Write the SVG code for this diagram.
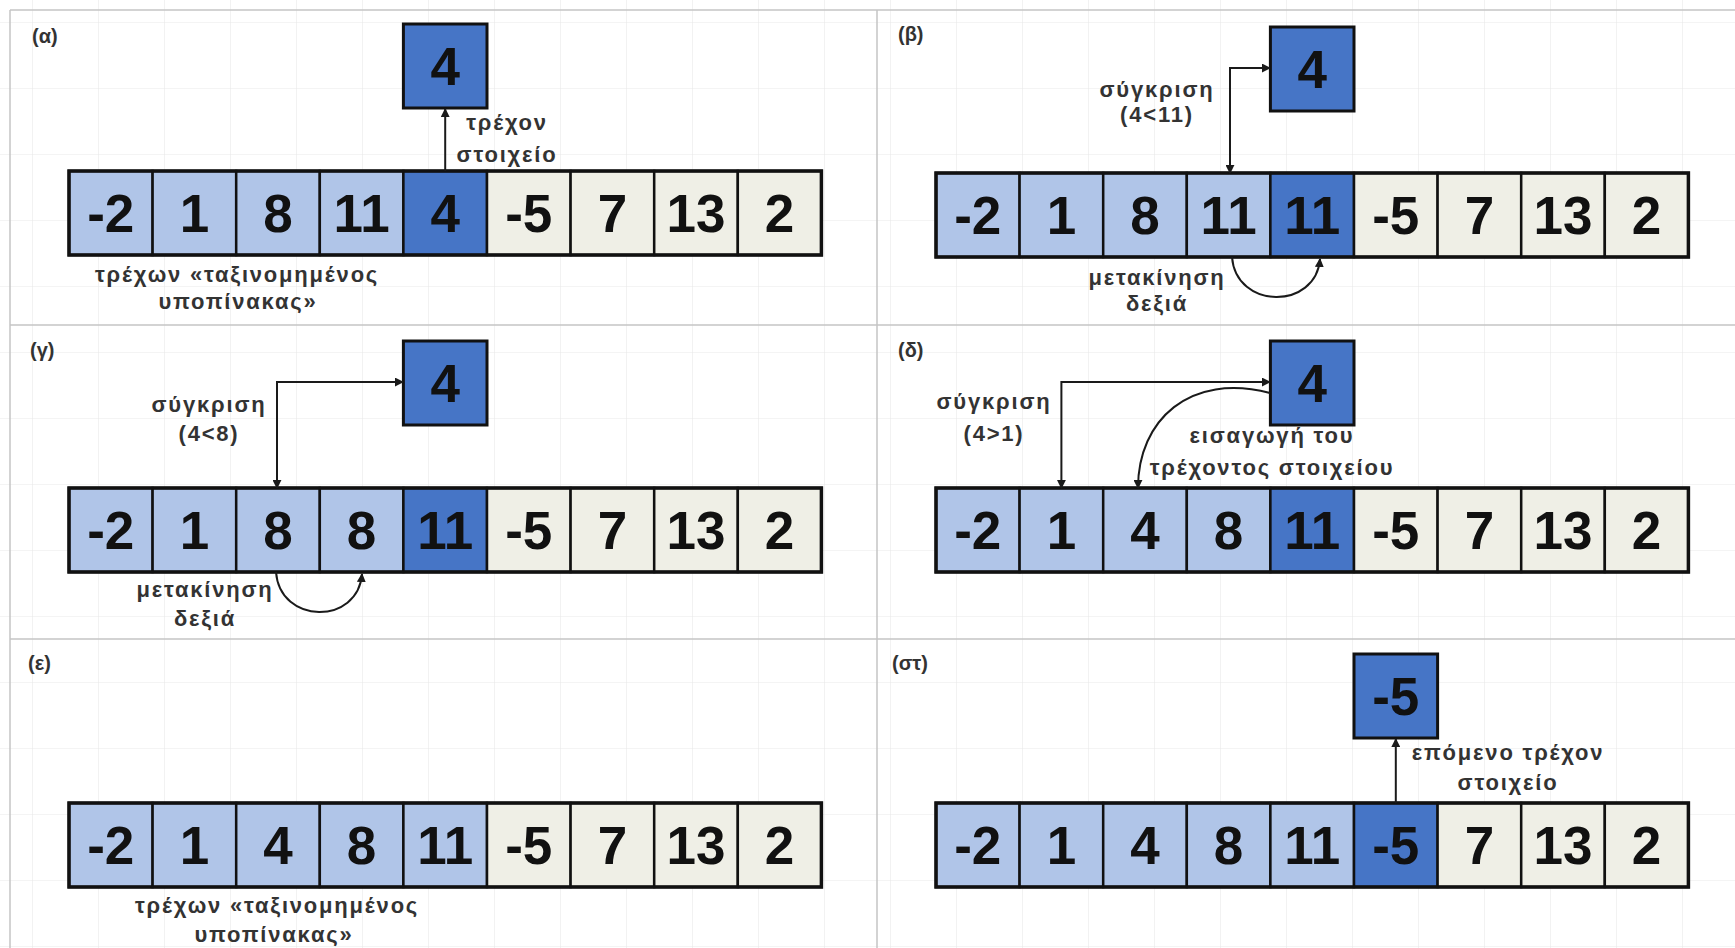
<svg xmlns="http://www.w3.org/2000/svg" width="1735" height="948" viewBox="0 0 1735 948">
<style>
.L{fill:#b0c5e8;stroke:#111;stroke-width:2.5}
.D{fill:#4675c6;stroke:#111;stroke-width:2.5}
.B{fill:#efefe6;stroke:#111;stroke-width:2.5}
.outer{fill:none;stroke:#111;stroke-width:3.5}
.box{fill:#4675c6;stroke:#111;stroke-width:3}
.num{font-family:"Liberation Sans",Arial,sans-serif;font-weight:bold;font-size:53px;fill:#111;text-anchor:middle}
.lbl{font-family:"Liberation Sans",Arial,sans-serif;font-weight:bold;font-size:22px;letter-spacing:1.8px;fill:#333;text-anchor:middle}
.pl{font-family:"Liberation Sans",Arial,sans-serif;font-weight:bold;font-size:20px;fill:#333}
.con{fill:none;stroke:#1a1a1a;stroke-width:2}
.div{stroke:#c4c4c4;stroke-width:1.5}
</style>
<defs>
<pattern id="grid" x="32" y="22" width="66" height="66" patternUnits="userSpaceOnUse">
<path d="M0 0H66M0 0V66" fill="none" stroke="#e9e9e9" stroke-width="1.2"/>
</pattern>
<marker id="ah" viewBox="0 0 10 10" refX="9" refY="5" markerWidth="9" markerHeight="9" markerUnits="userSpaceOnUse" orient="auto-start-reverse">
<path d="M0 0L10 5L0 10z" fill="#1a1a1a"/>
</marker>
</defs>
<rect width="1735" height="948" fill="#ffffff"/>
<rect width="1735" height="948" fill="url(#grid)"/>
<g id="dividers">
<line class="div" x1="10" y1="10" x2="1735" y2="10"/>
<line class="div" x1="10" y1="10" x2="10" y2="948"/>
<line class="div" x1="10" y1="325" x2="1735" y2="325"/>
<line class="div" x1="10" y1="639" x2="1735" y2="639"/>
<line class="div" x1="877" y1="10" x2="877" y2="948"/>
</g>

<g id="panel-a">
<text class="pl" x="32" y="43">(α)</text>
<g id="a-array">
<rect class="L" x="69" y="171" width="83.6" height="84"/><text class="num" x="110.8" y="232">-2</text>
<rect class="L" x="152.6" y="171" width="83.6" height="84"/><text class="num" x="194.4" y="232">1</text>
<rect class="L" x="236.2" y="171" width="83.6" height="84"/><text class="num" x="278" y="232">8</text>
<rect class="L" x="319.8" y="171" width="83.6" height="84"/><text class="num" x="361.6" y="232">11</text>
<rect class="D" x="403.4" y="171" width="83.6" height="84"/><text class="num" x="445.2" y="232">4</text>
<rect class="B" x="487" y="171" width="83.6" height="84"/><text class="num" x="528.8" y="232">-5</text>
<rect class="B" x="570.6" y="171" width="83.6" height="84"/><text class="num" x="612.4" y="232">7</text>
<rect class="B" x="654.2" y="171" width="83.6" height="84"/><text class="num" x="696" y="232">13</text>
<rect class="B" x="737.8" y="171" width="83.6" height="84"/><text class="num" x="779.6" y="232">2</text>
<rect class="outer" x="69" y="171" width="752.4" height="84"/>
</g>
<g id="a-current">
<rect class="box" x="403.4" y="24" width="83.6" height="84"/><text class="num" x="445.2" y="85">4</text>
</g>
<text class="lbl" x="507" y="130">τρέχον</text>
<text class="lbl" x="507" y="162">στοιχείο</text>
<text class="lbl" x="237" y="282">τρέχων «ταξινομημένος</text>
<text class="lbl" x="238" y="309">υποπίνακας»</text>
</g>

<g id="panel-b">
<text class="pl" x="898" y="41">(β)</text>
<g id="b-array">
<rect class="L" x="936" y="173" width="83.6" height="84"/><text class="num" x="977.8" y="234">-2</text>
<rect class="L" x="1019.6" y="173" width="83.6" height="84"/><text class="num" x="1061.4" y="234">1</text>
<rect class="L" x="1103.2" y="173" width="83.6" height="84"/><text class="num" x="1145" y="234">8</text>
<rect class="L" x="1186.8" y="173" width="83.6" height="84"/><text class="num" x="1228.6" y="234">11</text>
<rect class="D" x="1270.4" y="173" width="83.6" height="84"/><text class="num" x="1312.2" y="234">11</text>
<rect class="B" x="1354" y="173" width="83.6" height="84"/><text class="num" x="1395.8" y="234">-5</text>
<rect class="B" x="1437.6" y="173" width="83.6" height="84"/><text class="num" x="1479.4" y="234">7</text>
<rect class="B" x="1521.2" y="173" width="83.6" height="84"/><text class="num" x="1563" y="234">13</text>
<rect class="B" x="1604.8" y="173" width="83.6" height="84"/><text class="num" x="1646.6" y="234">2</text>
<rect class="outer" x="936" y="173" width="752.4" height="84"/>
</g>
<g id="b-current">
<rect class="box" x="1270.4" y="27" width="83.6" height="84"/><text class="num" x="1312.2" y="88">4</text>
</g>
<text class="lbl" x="1157" y="97">σύγκριση</text>
<text class="lbl" x="1157" y="122">(4&lt;11)</text>
<text class="lbl" x="1157" y="285">μετακίνηση</text>
<text class="lbl" x="1157" y="311">δεξιά</text>
</g>

<g id="panel-c">
<text class="pl" x="30" y="357">(γ)</text>
<g id="c-array">
<rect class="L" x="69" y="488" width="83.6" height="84"/><text class="num" x="110.8" y="549">-2</text>
<rect class="L" x="152.6" y="488" width="83.6" height="84"/><text class="num" x="194.4" y="549">1</text>
<rect class="L" x="236.2" y="488" width="83.6" height="84"/><text class="num" x="278" y="549">8</text>
<rect class="L" x="319.8" y="488" width="83.6" height="84"/><text class="num" x="361.6" y="549">8</text>
<rect class="D" x="403.4" y="488" width="83.6" height="84"/><text class="num" x="445.2" y="549">11</text>
<rect class="B" x="487" y="488" width="83.6" height="84"/><text class="num" x="528.8" y="549">-5</text>
<rect class="B" x="570.6" y="488" width="83.6" height="84"/><text class="num" x="612.4" y="549">7</text>
<rect class="B" x="654.2" y="488" width="83.6" height="84"/><text class="num" x="696" y="549">13</text>
<rect class="B" x="737.8" y="488" width="83.6" height="84"/><text class="num" x="779.6" y="549">2</text>
<rect class="outer" x="69" y="488" width="752.4" height="84"/>
</g>
<g id="c-current">
<rect class="box" x="403.4" y="341" width="83.6" height="84"/><text class="num" x="445.2" y="402">4</text>
</g>
<text class="lbl" x="209" y="412">σύγκριση</text>
<text class="lbl" x="209" y="441">(4&lt;8)</text>
<text class="lbl" x="205" y="597">μετακίνηση</text>
<text class="lbl" x="205" y="626">δεξιά</text>
</g>

<g id="panel-d">
<text class="pl" x="898" y="357">(δ)</text>
<g id="d-array">
<rect class="L" x="936" y="488" width="83.6" height="84"/><text class="num" x="977.8" y="549">-2</text>
<rect class="L" x="1019.6" y="488" width="83.6" height="84"/><text class="num" x="1061.4" y="549">1</text>
<rect class="L" x="1103.2" y="488" width="83.6" height="84"/><text class="num" x="1145" y="549">4</text>
<rect class="L" x="1186.8" y="488" width="83.6" height="84"/><text class="num" x="1228.6" y="549">8</text>
<rect class="D" x="1270.4" y="488" width="83.6" height="84"/><text class="num" x="1312.2" y="549">11</text>
<rect class="B" x="1354" y="488" width="83.6" height="84"/><text class="num" x="1395.8" y="549">-5</text>
<rect class="B" x="1437.6" y="488" width="83.6" height="84"/><text class="num" x="1479.4" y="549">7</text>
<rect class="B" x="1521.2" y="488" width="83.6" height="84"/><text class="num" x="1563" y="549">13</text>
<rect class="B" x="1604.8" y="488" width="83.6" height="84"/><text class="num" x="1646.6" y="549">2</text>
<rect class="outer" x="936" y="488" width="752.4" height="84"/>
</g>
<g id="d-current">
<rect class="box" x="1270.4" y="341" width="83.6" height="84"/><text class="num" x="1312.2" y="402">4</text>
</g>
<text class="lbl" x="994" y="409">σύγκριση</text>
<text class="lbl" x="994" y="441">(4&gt;1)</text>
<text class="lbl" x="1272" y="443">εισαγωγή του</text>
<text class="lbl" x="1272" y="475">τρέχοντος στοιχείου</text>
</g>

<g id="panel-e">
<text class="pl" x="28" y="670">(ε)</text>
<g id="e-array">
<rect class="L" x="69" y="803" width="83.6" height="84"/><text class="num" x="110.8" y="864">-2</text>
<rect class="L" x="152.6" y="803" width="83.6" height="84"/><text class="num" x="194.4" y="864">1</text>
<rect class="L" x="236.2" y="803" width="83.6" height="84"/><text class="num" x="278" y="864">4</text>
<rect class="L" x="319.8" y="803" width="83.6" height="84"/><text class="num" x="361.6" y="864">8</text>
<rect class="L" x="403.4" y="803" width="83.6" height="84"/><text class="num" x="445.2" y="864">11</text>
<rect class="B" x="487" y="803" width="83.6" height="84"/><text class="num" x="528.8" y="864">-5</text>
<rect class="B" x="570.6" y="803" width="83.6" height="84"/><text class="num" x="612.4" y="864">7</text>
<rect class="B" x="654.2" y="803" width="83.6" height="84"/><text class="num" x="696" y="864">13</text>
<rect class="B" x="737.8" y="803" width="83.6" height="84"/><text class="num" x="779.6" y="864">2</text>
<rect class="outer" x="69" y="803" width="752.4" height="84"/>
</g>
<text class="lbl" x="277" y="913">τρέχων «ταξινομημένος</text>
<text class="lbl" x="274" y="942">υποπίνακας»</text>
</g>

<g id="panel-f">
<text class="pl" x="892" y="670">(στ)</text>
<g id="f-array">
<rect class="L" x="936" y="803" width="83.6" height="84"/><text class="num" x="977.8" y="864">-2</text>
<rect class="L" x="1019.6" y="803" width="83.6" height="84"/><text class="num" x="1061.4" y="864">1</text>
<rect class="L" x="1103.2" y="803" width="83.6" height="84"/><text class="num" x="1145" y="864">4</text>
<rect class="L" x="1186.8" y="803" width="83.6" height="84"/><text class="num" x="1228.6" y="864">8</text>
<rect class="L" x="1270.4" y="803" width="83.6" height="84"/><text class="num" x="1312.2" y="864">11</text>
<rect class="D" x="1354" y="803" width="83.6" height="84"/><text class="num" x="1395.8" y="864">-5</text>
<rect class="B" x="1437.6" y="803" width="83.6" height="84"/><text class="num" x="1479.4" y="864">7</text>
<rect class="B" x="1521.2" y="803" width="83.6" height="84"/><text class="num" x="1563" y="864">13</text>
<rect class="B" x="1604.8" y="803" width="83.6" height="84"/><text class="num" x="1646.6" y="864">2</text>
<rect class="outer" x="936" y="803" width="752.4" height="84"/>
</g>
<g id="f-current">
<rect class="box" x="1354" y="654" width="83.6" height="84"/><text class="num" x="1395.8" y="715">-5</text>
</g>
<text class="lbl" x="1508" y="760">επόμενο τρέχον</text>
<text class="lbl" x="1508" y="790">στοιχείο</text>
</g>

<g id="connectors">
<path class="con" d="M445.2 171V109" marker-end="url(#ah)"/>
<path class="con" d="M1230 173V68H1270" marker-start="url(#ah)" marker-end="url(#ah)"/>
<path class="con" d="M1232 257C1236 310 1316 310 1320 259" marker-end="url(#ah)"/>
<path class="con" d="M277 488V382H403" marker-start="url(#ah)" marker-end="url(#ah)"/>
<path class="con" d="M276 572C280 625 358 625 362 574" marker-end="url(#ah)"/>
<path class="con" d="M1061.4 488V382H1270" marker-start="url(#ah)" marker-end="url(#ah)"/>
<path class="con" d="M1270 393C1190 372 1138 420 1138 488" marker-end="url(#ah)"/>
<path class="con" d="M1395.8 803V739" marker-end="url(#ah)"/>
</g>
</svg>
